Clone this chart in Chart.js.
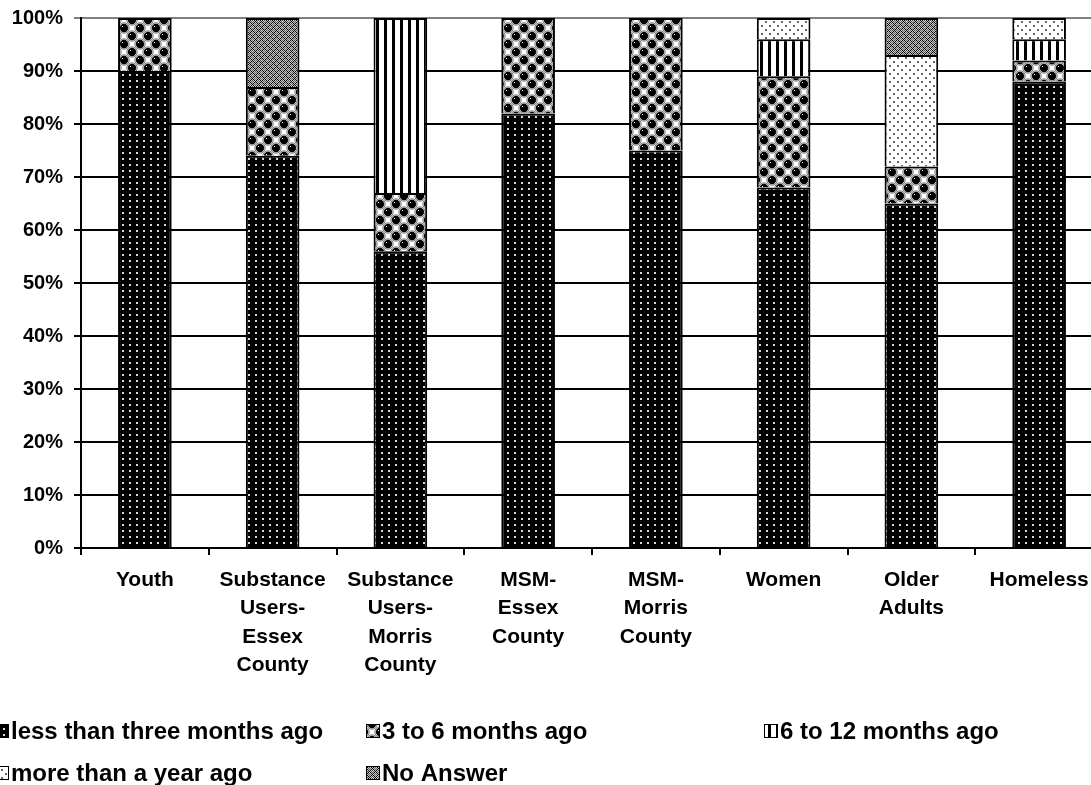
<!DOCTYPE html>
<html>
<head>
<meta charset="utf-8">
<script src="https://cdn.jsdelivr.net/npm/chart.js@4/dist/chart.umd.min.js"></script>
<style>
  html, body { margin: 0; padding: 0; background: #fff; overflow: hidden; }
  #c { position: absolute; left: 0; top: 0; }
</style>
</head>
<body>
<canvas id="c" width="1110" height="785"></canvas>
<script>
// Survey groups (x-axis categories, multi-line labels)
const categories = [
  ['Youth'],
  ['Substance', 'Users-', 'Essex', 'County'],
  ['Substance', 'Users-', 'Morris', 'County'],
  ['MSM-', 'Essex', 'County'],
  ['MSM-', 'Morris', 'County'],
  ['Women'],
  ['Older', 'Adults'],
  ['Homeless']
];

// Share of respondents (%) by time since last test
const lessThanThreeMonths = [90, 74, 56, 82, 75, 68, 65, 88];
const threeToSixMonths    = [10, 13, 11, 18, 25, 21,  7,  4];
const sixToTwelveMonths   = [ 0,  0, 33,  0,  0,  7,  0,  4];
const moreThanAYear       = [ 0,  0,  0,  0,  0,  4, 21,  4];
const noAnswer            = [ 0, 13,  0,  0,  0,  0,  7,  0];

const seriesNames = [
  'less than three months ago',
  '3 to 6 months ago',
  '6 to 12 months ago',
  'more than a year ago',
  'No Answer'
];

const yTickValues = [0, 10, 20, 30, 40, 50, 60, 70, 80, 90, 100];

const canvas = document.getElementById('c');
const mainCtx = canvas.getContext('2d');

// Build a repeating monochrome fill from a small tile
function makePattern(w, h, paint) {
  const t = document.createElement('canvas');
  t.width = w; t.height = h;
  const g = t.getContext('2d');
  paint(g, w, h);
  return mainCtx.createPattern(t, 'repeat');
}

// black with fine white dots
const patDense = makePattern(7, 6, (g, w, h) => {
  g.fillStyle = '#000'; g.fillRect(0, 0, w, h);
  g.fillStyle = '#d8d8d8'; g.fillRect(3, 2, 2, 2);
});

// staggered black balls on white
const patBalls = makePattern(16, 16, (g, w, h) => {
  g.fillStyle = '#fff'; g.fillRect(0, 0, w, h);
  const centres = [[4, 4], [12, 12], [-4, 12], [20, 4], [4, 20], [12, -4]];
  centres.forEach(([cx, cy]) => {
    g.beginPath(); g.arc(cx, cy, 5.2, 0, Math.PI * 2);
    g.strokeStyle = '#707070'; g.lineWidth = 1; g.stroke();
    g.beginPath(); g.arc(cx, cy, 4.2, 0, Math.PI * 2);
    g.fillStyle = '#000'; g.fill();
    g.fillStyle = '#fff'; g.fillRect(cx - 2, cy - 2, 1, 1);
  });
});

// vertical black stripes
const patStripes = makePattern(8, 4, (g, w, h) => {
  g.fillStyle = '#fff'; g.fillRect(0, 0, w, h);
  g.fillStyle = '#000'; g.fillRect(0, 0, 3, h);
});

// sparse dark dots on white
const patSparse = makePattern(8, 8, (g, w, h) => {
  g.fillStyle = '#fff'; g.fillRect(0, 0, w, h);
  g.fillStyle = '#666';
  g.fillRect(1, 1, 2, 2);
  g.fillRect(5, 5, 2, 2);
});

// diagonal crosshatch
const patHatch = makePattern(6, 6, (g, w, h) => {
  const img = g.createImageData(w, h);
  for (let y = 0; y < h; y++) {
    for (let x = 0; x < w; x++) {
      const on = ((x + y) % 6 === 0) || ((x - y + 6) % 6 === 0);
      const v = on ? 0 : ((x + y) % 2 === 0 ? 90 : 200);
      const i = (y * w + x) * 4;
      img.data[i] = img.data[i + 1] = img.data[i + 2] = v;
      img.data[i + 3] = 255;
    }
  }
  g.putImageData(img, 0, 0);
});

const fills = [patDense, patBalls, patStripes, patSparse, patHatch];
const values = [lessThanThreeMonths, threeToSixMonths, sixToTwelveMonths, moreThanAYear, noAnswer];

const datasets = seriesNames.map((name, i) => ({
  label: name,
  data: values[i],
  backgroundColor: fills[i],
  borderColor: '#000',
  borderWidth: 2,
  borderSkipped: 'start',
  barPercentage: 0.42,
  categoryPercentage: 1.0
}));

const FONT = '"Liberation Sans", Arial, Helvetica, sans-serif';

// Legend laid out in a three-column grid below the axis
const legendSlots = [
  { x: -5,  y: 731 },
  { x: 366, y: 731 },
  { x: 764, y: 731 },
  { x: -5,  y: 773 },
  { x: 366, y: 773 }
];

const gridLegend = {
  id: 'gridLegend',
  afterDraw(chart) {
    const ctx = chart.ctx;
    ctx.save();
    ctx.font = 'bold 24px ' + FONT;
    ctx.textBaseline = 'middle';
    ctx.textAlign = 'left';
    chart.data.datasets.forEach((ds, i) => {
      const s = legendSlots[i];
      const box = 14;
      ctx.fillStyle = ds.backgroundColor;
      ctx.fillRect(s.x, s.y - box / 2, box, box);
      ctx.strokeStyle = '#000';
      ctx.lineWidth = 1;
      ctx.strokeRect(s.x + 0.5, s.y - box / 2 + 0.5, box - 1, box - 1);
      ctx.fillStyle = '#000';
      ctx.fillText(ds.label, s.x + box + 2, s.y + 1);
    });
    ctx.restore();
  }
};

new Chart(canvas, {
  type: 'bar',
  data: { labels: categories, datasets },
  plugins: [gridLegend],
  options: {
    responsive: false,
    animation: false,
    devicePixelRatio: 1,
    layout: { padding: { top: 18, right: 7, left: 0, bottom: 0 } },
    plugins: {
      legend: { display: false },
      tooltip: { enabled: false }
    },
    scales: {
      x: {
        stacked: true,
        grid: {
          display: true,
          drawOnChartArea: false,
          drawTicks: true,
          tickLength: 7,
          color: '#000',
          lineWidth: 2,
          offset: true
        },
        border: { display: true, color: '#000', width: 2 },
        ticks: {
          autoSkip: false,
          maxRotation: 0,
          minRotation: 0,
          padding: 11,
          color: '#000',
          font: { family: FONT, size: 21, weight: 'bold', lineHeight: 1.35 }
        },
        afterFit(scale) { scale.height = 237; }
      },
      y: {
        stacked: true,
        min: 0,
        max: 100,
        afterBuildTicks(scale) { scale.ticks = yTickValues.map(v => ({ value: v })); },
        ticks: {
          callback: v => v + '%',
          padding: 11,
          color: '#000',
          font: { family: FONT, size: 20, weight: 'bold' }
        },
        grid: {
          color: c => (c.tick && c.tick.value === 100 ? '#808080' : '#000'),
          lineWidth: 2,
          drawTicks: true,
          tickLength: 7
        },
        border: { display: true, color: '#000', width: 2 },
        afterFit(scale) {
          scale.width = 81;
          scale.paddingTop = 0;
          scale.paddingBottom = 0;
        }
      }
    }
  }
});
</script>
</body>
</html>
